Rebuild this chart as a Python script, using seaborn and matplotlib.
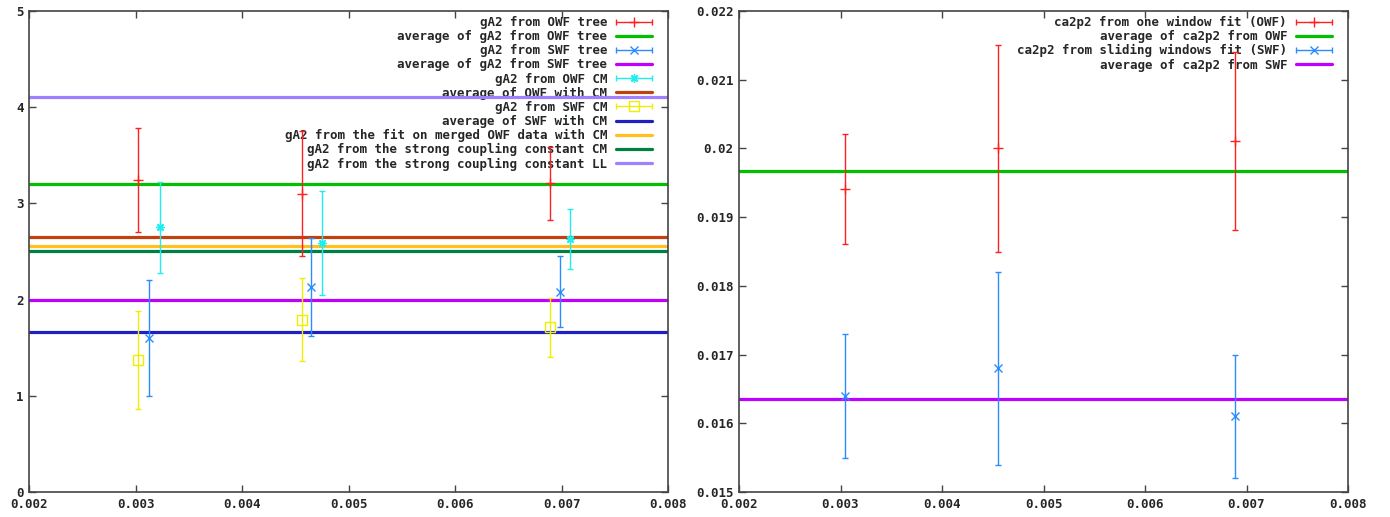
import matplotlib
matplotlib.use("Agg")
import matplotlib.pyplot as plt
import seaborn as sns
from matplotlib.container import ErrorbarContainer
from matplotlib.legend_handler import HandlerErrorbar

# ---- left panel: gA2 ----
x_owf = [0.00302, 0.00456, 0.00689]
x_swf = [0.00313, 0.00465, 0.00699]
x_owf_cm = [0.00323, 0.00475, 0.00708]
x_swf_cm = [0.00302, 0.00456, 0.00689]

ga2_owf = [3.24, 3.10, 3.21]
ga2_owf_err = [0.54, 0.65, 0.38]
ga2_swf = [1.60, 2.13, 2.08]
ga2_swf_err = [0.60, 0.51, 0.37]
ga2_owf_cm = [2.75, 2.59, 2.63]
ga2_owf_cm_err = [0.47, 0.54, 0.31]
ga2_swf_cm = [1.37, 1.79, 1.71]
ga2_swf_cm_err = [0.51, 0.43, 0.31]

avg_owf_tree = 3.20
avg_swf_tree = 2.00
avg_owf_cm = 2.65
avg_swf_cm = 1.66
merged_owf_cm = 2.56
strong_cm = 2.51
strong_ll = 4.11

# ---- right panel: ca2p2 ----
x_ca = [0.00304, 0.00455, 0.00689]
ca_owf = [0.01941, 0.02000, 0.02011]
ca_owf_err = [0.00080, 0.00150, 0.00130]
ca_swf = [0.01640, 0.01680, 0.01610]
ca_swf_err = [0.00090, 0.00140, 0.00090]
ca_avg_owf = 0.019676
ca_avg_swf = 0.016350

xticks = [0.002, 0.003, 0.004, 0.005, 0.006, 0.007, 0.008]
ga2_ticks = [0, 1, 2, 3, 4, 5]
ga2_labels = ["0", "1", "2", "3", "4", "5"]
ca_ticks = [0.015, 0.016, 0.017, 0.018, 0.019, 0.020, 0.021, 0.022]
ca_labels = ["0.015", "0.016", "0.017", "0.018", "0.019", "0.02", "0.021", "0.022"]

C = {
    "red": "#ff2020", "green": "#00c000", "blue": "#2a8cff", "magenta": "#c000ff",
    "cyan": "#20eeee", "brown": "#c04010", "yellow": "#eeee00", "navy": "#2020c0",
    "orange": "#ffc020", "dkgreen": "#008040", "lavender": "#a080ff",
}
FS = 9
FONT = {"family": "DejaVu Sans Mono", "weight": "bold", "size": FS}

sns.set_theme(style="ticks")
plt.rcParams["font.family"] = ["DejaVu Sans Mono", "DejaVu Sans"]
plt.rcParams["font.weight"] = "bold"


def ebar(ax, x, y, e, color, marker, label, ms=6, **kw):
    eb = ax.errorbar(x, y, yerr=e, fmt="", marker=marker, linestyle="none",
                     color=color, ms=ms, mew=1, elinewidth=1, capsize=2,
                     capthick=1, zorder=3, **kw)
    # legend sample drawn as horizontal bar with caps, like gnuplot
    return ErrorbarContainer(eb.lines, has_xerr=True, has_yerr=False, label=label)


def hline(ax, y, color, label):
    return ax.axhline(y, color=color, lw=2.3, label=label, zorder=2)


def style_axes(ax, yticks, ylabels):
    ax.set_xlim(0.002, 0.008)
    ax.set_ylim(yticks[0], yticks[-1])
    ax.set_xticks(xticks)
    ax.set_xticklabels([f"{t:.3f}" for t in xticks], fontdict=FONT)
    ax.set_yticks(yticks)
    ax.set_yticklabels(ylabels, fontdict=FONT)
    ax.tick_params(direction="in", length=5, width=1, color="#444444",
                   top=True, right=True, pad=4)
    for s in ax.spines.values():
        s.set_color("#444444")
        s.set_linewidth(1.2)
    ax.grid(False)


def add_legend(ax, handles, width_px):
    leg = ax.legend(handles=handles, loc="upper right", markerfirst=False,
                    frameon=False, prop=FONT, handlelength=2.9,
                    handletextpad=0.7, labelspacing=0.09, borderaxespad=0.4,
                    numpoints=1, bbox_to_anchor=(1 - 6 / width_px, 1 + 5 / 481),
                    handler_map={ErrorbarContainer: HandlerErrorbar(xerr_size=1.45)})
    leg.set_zorder(1)


fig = plt.figure(figsize=(13.9, 5.17), dpi=100)
ax1 = fig.add_axes([29 / 1390, 25 / 517, 639 / 1390, 481 / 517])
ax2 = fig.add_axes([739 / 1390, 25 / 517, 609 / 1390, 481 / 517])

h = []
h.append(ebar(ax1, x_owf, ga2_owf, ga2_owf_err, C["red"], "+", "gA2 from OWF tree", ms=7))
h.append(hline(ax1, avg_owf_tree, C["green"], "average of gA2 from OWF tree"))
h.append(ebar(ax1, x_swf, ga2_swf, ga2_swf_err, C["blue"], "x", "gA2 from SWF tree"))
h.append(hline(ax1, avg_swf_tree, C["magenta"], "average of gA2 from SWF tree"))
h.append(ebar(ax1, x_owf_cm, ga2_owf_cm, ga2_owf_cm_err, C["cyan"], (8, 2, 0), "gA2 from OWF CM"))
h.append(hline(ax1, avg_owf_cm, C["brown"], "average of OWF with CM"))
h.append(ebar(ax1, x_swf_cm, ga2_swf_cm, ga2_swf_cm_err, C["yellow"], "s", "gA2 from SWF CM",
              ms=7, mfc="none"))
h.append(hline(ax1, avg_swf_cm, C["navy"], "average of SWF with CM"))
h.append(hline(ax1, merged_owf_cm, C["orange"], "gA2 from the fit on merged OWF data with CM"))
h.append(hline(ax1, strong_cm, C["dkgreen"], "gA2 from the strong coupling constant CM"))
h.append(hline(ax1, strong_ll, C["lavender"], "gA2 from the strong coupling constant LL"))
style_axes(ax1, ga2_ticks, ga2_labels)
add_legend(ax1, h, 639)

h2 = []
h2.append(ebar(ax2, x_ca, ca_owf, ca_owf_err, C["red"], "+", "ca2p2 from one window fit (OWF)", ms=7))
h2.append(hline(ax2, ca_avg_owf, C["green"], "average of ca2p2 from OWF"))
h2.append(ebar(ax2, x_ca, ca_swf, ca_swf_err, C["blue"], "x", "ca2p2 from sliding windows fit (SWF)"))
h2.append(hline(ax2, ca_avg_swf, C["magenta"], "average of ca2p2 from SWF"))
style_axes(ax2, ca_ticks, ca_labels)
add_legend(ax2, h2, 609)

fig.savefig("out.png", dpi=100)
